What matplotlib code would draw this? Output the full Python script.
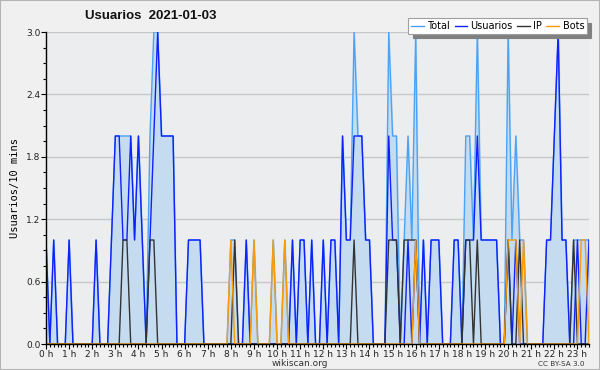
import numpy as np
import matplotlib
matplotlib.use("Agg")
import matplotlib.pyplot as plt
from matplotlib.patches import Rectangle

# 10-minute slots, 0h .. 23h30  (one row per hour)
total = [
    1, 0, 1, 0, 0, 0,
    1, 0, 0, 0, 0, 0,
    0, 1, 0, 0, 0, 1,
    2, 2, 2, 2, 2, 1,
    2, 1, 0, 2, 3, 3,
    2, 2, 2, 2, 0, 0,
    0, 1, 1, 1, 1, 0,
    0, 0, 0, 0, 0, 0,
    1, 1, 0, 0, 1, 0,
    1, 0, 0, 0, 0, 1,
    0, 0, 1, 0, 1, 0,
    1, 1, 0, 1, 0, 0,
    1, 0, 1, 1, 0, 2,
    1, 1, 3, 2, 2, 1,
    1, 0, 0, 0, 0, 3,
    2, 2, 0, 1, 2, 1,
    3, 0, 1, 0, 1, 1,
    1, 0, 0, 0, 1, 1,
    0, 2, 2, 1, 3, 1,
    1, 1, 1, 1, 0, 0,
    3, 1, 2, 1, 1, 0,
    0, 0, 0, 0, 1, 1,
    2, 3, 1, 1, 0, 1,
    1, 1, 1, 1,
]
usuarios = [
    1, 0, 1, 0, 0, 0,
    1, 0, 0, 0, 0, 0,
    0, 1, 0, 0, 0, 1,
    2, 2, 1, 1, 2, 1,
    2, 1, 0, 1, 2, 3,
    2, 2, 2, 2, 0, 0,
    0, 1, 1, 1, 1, 0,
    0, 0, 0, 0, 0, 0,
    0, 0, 0, 0, 1, 0,
    0, 0, 0, 0, 0, 0,
    0, 0, 0, 0, 1, 0,
    1, 1, 0, 1, 0, 0,
    1, 0, 1, 1, 0, 2,
    1, 1, 2, 2, 2, 1,
    1, 0, 0, 0, 0, 2,
    1, 1, 0, 0, 1, 0,
    1, 0, 1, 0, 1, 1,
    1, 0, 0, 0, 1, 1,
    0, 1, 1, 1, 2, 1,
    1, 1, 1, 1, 0, 0,
    1, 0, 1, 0, 0, 0,
    0, 0, 0, 0, 1, 1,
    2, 3, 1, 1, 0, 0,
    1, 0, 0, 1,
]
ip = [
    0, 0, 0, 0, 0, 0,
    0, 0, 0, 0, 0, 0,
    0, 0, 0, 0, 0, 0,
    0, 0, 1, 1, 0, 0,
    0, 0, 0, 1, 1, 0,
    0, 0, 0, 0, 0, 0,
    0, 0, 0, 0, 0, 0,
    0, 0, 0, 0, 0, 0,
    0, 1, 0, 0, 0, 0,
    0, 0, 0, 0, 0, 0,
    0, 0, 0, 0, 0, 0,
    0, 0, 0, 0, 0, 0,
    0, 0, 0, 0, 0, 0,
    0, 0, 1, 0, 0, 0,
    0, 0, 0, 0, 0, 1,
    1, 1, 0, 1, 1, 1,
    1, 0, 0, 0, 0, 0,
    0, 0, 0, 0, 0, 0,
    0, 1, 1, 0, 1, 0,
    0, 0, 0, 0, 0, 0,
    1, 0, 0, 1, 0, 0,
    0, 0, 0, 0, 0, 0,
    0, 0, 0, 0, 0, 1,
    0, 0, 0, 0,
]
bots = [
    0, 0, 0, 0, 0, 0,
    0, 0, 0, 0, 0, 0,
    0, 0, 0, 0, 0, 0,
    0, 0, 0, 0, 0, 0,
    0, 0, 0, 0, 0, 0,
    0, 0, 0, 0, 0, 0,
    0, 0, 0, 0, 0, 0,
    0, 0, 0, 0, 0, 0,
    1, 0, 0, 0, 0, 0,
    1, 0, 0, 0, 0, 1,
    0, 0, 1, 0, 0, 0,
    0, 0, 0, 0, 0, 0,
    0, 0, 0, 0, 0, 0,
    0, 0, 0, 0, 0, 0,
    0, 0, 0, 0, 0, 0,
    0, 0, 0, 0, 0, 0,
    1, 0, 0, 0, 0, 0,
    0, 0, 0, 0, 0, 0,
    0, 0, 0, 0, 0, 0,
    0, 0, 0, 0, 0, 0,
    1, 1, 1, 0, 1, 0,
    0, 0, 0, 0, 0, 0,
    0, 0, 0, 0, 0, 0,
    0, 1, 1, 0,
]
hour_labels = [f"{h} h" for h in range(24)]
y_ticks = [0.0, 0.6, 1.2, 1.8, 2.4, 3.0]

slots = np.arange(len(total))

fig = plt.figure(figsize=(6.0, 3.7), dpi=100, facecolor="#f0f0f0")
fig.patches.append(Rectangle((0, 0), 1, 1, transform=fig.transFigure,
                             fill=False, edgecolor="#b4b4b4", linewidth=1.5))
ax = fig.add_axes([46 / 600, 1 - 344 / 370, (589 - 46) / 600, (344 - 32) / 370])
ax.set_facecolor("#ecedef")

# ── series ────────────────────────────────────────────────────────────────
ax.fill_between(slots, total, color="#c5dcf0", zorder=1)
ax.plot(slots, total, color="#4aa3f5", lw=1.0, label="Total", zorder=3)
ax.plot(slots, usuarios, color="#1020ff", lw=1.0, label="Usuarios", zorder=4)
ax.plot(slots, ip, color="#333333", lw=1.0, label="IP", zorder=5)
ax.plot(slots, bots, color="#ff9a00", lw=1.0, label="Bots", zorder=6)

# ── axes ──────────────────────────────────────────────────────────────────
ax.set_xlim(0, len(total) - 1)
ax.set_ylim(0, 3.0)
ax.set_xticks(np.arange(0, 24) * 6)
ax.set_xticklabels(hour_labels, fontsize=6.5, color="#222222")
ax.set_xticks(slots, minor=True)
ax.set_yticks(y_ticks)
ax.set_yticklabels([f"{v:.1f}" for v in y_ticks], fontsize=6.5, color="#222222")
ax.set_yticks(np.arange(0, 3.01, 0.15), minor=True)
ax.tick_params(axis="both", which="both", direction="out", color="black",
               width=0.8, pad=0.5)
ax.tick_params(axis="both", which="major", length=3.5)
ax.tick_params(axis="both", which="minor", length=2.5)
ax.grid(axis="y", which="major", color="#c8c8c8", lw=1.0, zorder=0)
ax.set_axisbelow(True)
for side in ("top", "right"):
    ax.spines[side].set_visible(False)
for side in ("left", "bottom"):
    ax.spines[side].set_color("black")
    ax.spines[side].set_linewidth(1.0)
    ax.spines[side].set_zorder(7)

ax.set_ylabel("Usuarios/10 mins", fontsize=7.5, family="DejaVu Sans Mono")
ax.yaxis.set_label_coords(-0.048, 0.5)

fig.text(0.252, 0.957, "Usuarios  2021-01-03", fontsize=9.5, fontweight="bold",
         family="Liberation Sans", ha="center", va="center", color="#111111")
fig.text(0.5, 0.017, "wikiscan.org", fontsize=6.5, ha="center", va="center",
         color="#333333")
fig.text(0.975, 0.017, "CC BY-SA 3.0", fontsize=5.2, ha="right", va="center",
         color="#333333")

leg = ax.legend(loc="upper right", bbox_to_anchor=(1.0, 1.05), ncol=4,
                fontsize=7, frameon=True, fancybox=False,
                shadow={"color": "#808080", "alpha": 1.0, "ox": 3, "oy": -3},
                handlelength=1.3, handletextpad=0.35, columnspacing=0.45,
                borderpad=0.3, borderaxespad=0.2)
leg.get_frame().set_edgecolor("#a0a0a0")
leg.get_frame().set_facecolor("white")
leg.get_frame().set_linewidth(0.8)
leg.set_zorder(10)

fig.savefig("out.png", dpi=100, facecolor=fig.get_facecolor())
